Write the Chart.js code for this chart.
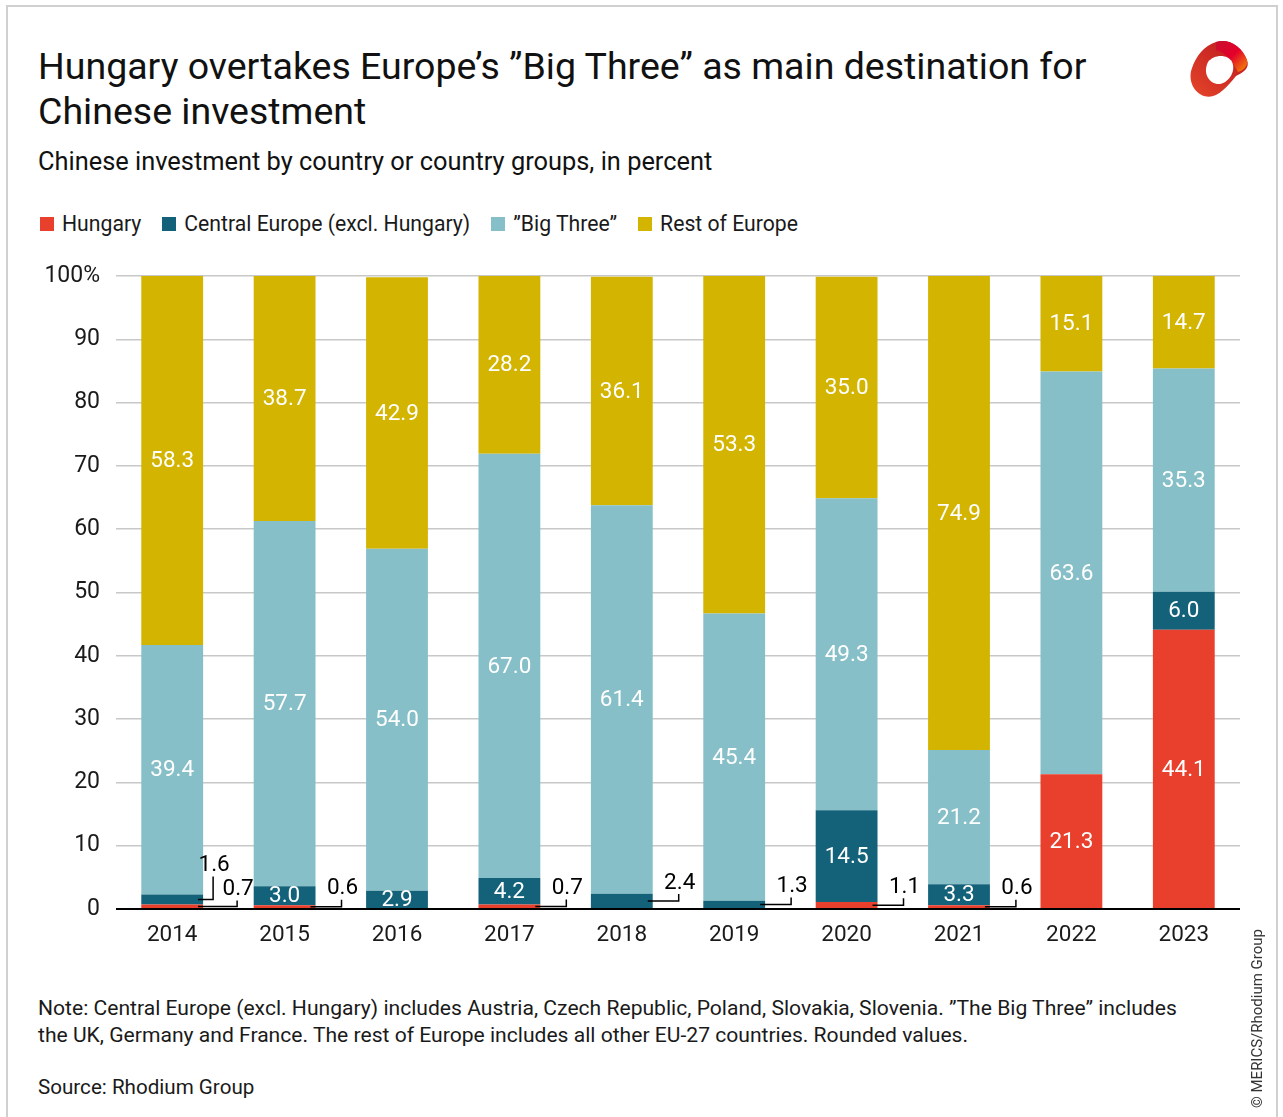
<!DOCTYPE html>
<html>
<head>
<meta charset="utf-8">
<script src="https://cdn.jsdelivr.net/npm/chart.js@4.4.1/dist/chart.umd.min.js"></script>
<style>
  body { margin: 0; background: #fff; font-family: Roboto, sans-serif; color: #1a1a1a; }
  #frame { position: absolute; left: 6px; top: 5px; width: 1268px; height: 1140px; border: 2px solid #d0d0d0; }
  .title { position: absolute; left: 38px; top: 44px; font-size: 37.5px; line-height: 45px; color: #111; }
  .subtitle { position: absolute; left: 38px; top: 146px; font-size: 25.4px; color: #111; }
  #legend { position: absolute; left: 40px; top: 211px; font-size: 21.2px; display: flex; gap: 21px; }
  #legend span.item { display: flex; align-items: center; }
  #legend i { display: inline-block; width: 14px; height: 14px; margin-right: 8px; }
  #chartBox { position: absolute; left: 0; top: 250px; width: 1283px; height: 720px; }
  .note { position: absolute; left: 38px; top: 994px; font-size: 21.1px; line-height: 27px; color: #1a1a1a; }
  .source { position: absolute; left: 38px; top: 1075px; font-size: 20.6px; color: #1a1a1a; }
  .copy { position: absolute; left: 1258px; top: 1108px; font-size: 15px; color: #333;
          transform-origin: 0 0; transform: rotate(-90deg); white-space: nowrap; margin-left: -10px; }
  #logo { position: absolute; left: 1186px; top: 38px; }
</style>
</head>
<body>
<div id="frame"></div>
<div class="title">Hungary overtakes Europe’s ”Big Three” as main destination for<br>Chinese investment</div>
<div class="subtitle">Chinese investment by country or country groups, in percent</div>
<div id="legend"></div>
<svg id="logo" width="66" height="64" viewBox="0 0 66 64">
  <defs>
    <linearGradient id="g1" x1="0" y1="0" x2="1" y2="1">
      <stop offset="0" stop-color="#c8102e"/>
      <stop offset="0.5" stop-color="#e4002b"/>
      <stop offset="1" stop-color="#f39200"/>
    </linearGradient>
    <linearGradient id="g2" x1="0" y1="1" x2="1" y2="0">
      <stop offset="0" stop-color="#e6452a"/>
      <stop offset="1" stop-color="#b8161f"/>
    </linearGradient>
  </defs>
  <path d="M30 4 C42 0 56 8 61 22 C64 30 58 34 50 38 C40 50 30 62 18 58 C6 54 2 40 6 30 C10 18 18 8 30 4 Z" fill="url(#g2)"/>
  <path d="M30 4 C42 0 56 8 61 22 C62 28 58 32 52 34 C46 22 38 14 30 12 Z" fill="url(#g1)"/>
  <path d="M22 24 C28 16 42 16 46 24 C50 32 44 44 34 46 C24 47 16 36 22 24 Z" fill="#fff"/>
</svg>
<div id="chartBox"><canvas id="chart"></canvas></div>
<div class="note">Note: Central Europe (excl. Hungary) includes Austria, Czech Republic, Poland, Slovakia, Slovenia. ”The Big Three” includes<br>the UK, Germany and France. The rest of Europe includes all other EU-27 countries. Rounded values.</div>
<div class="source">Source: Rhodium Group</div>
<div class="copy">© MERICS/Rhodium Group</div>

<script>
const FONT = 'Roboto, sans-serif';

const years = ['2014', '2015', '2016', '2017', '2018', '2019', '2020', '2021', '2022', '2023'];
const hungary = [0.7, 0.6, 0, 0.7, 0, 0, 1.1, 0.6, 21.3, 44.1];
const centralEurope = [1.6, 3.0, 2.9, 4.2, 2.4, 1.3, 14.5, 3.3, 0, 6.0];
const bigThree = [39.4, 57.7, 54.0, 67.0, 61.4, 45.4, 49.3, 21.2, 63.6, 35.3];
const restOfEurope = [58.3, 38.7, 42.9, 28.2, 36.1, 53.3, 35.0, 74.9, 15.1, 14.7];
const yTicks = [0, 10, 20, 30, 40, 50, 60, 70, 80, 90, 100];

const seriesNames = ['Hungary', 'Central Europe (excl. Hungary)', '”Big Three”', 'Rest of Europe'];
const seriesColors = ['#e8402c', '#13627a', '#86bfc7', '#d3b400'];

// small segments labelled outside the bar with a bracket line
const callouts = [
  { dataset: 0, index: 0, dx: 34, rise: 6 },
  { dataset: 1, index: 0, dx: 10, rise: 23 },
  { dataset: 0, index: 1, dx: 26, rise: 7 },
  { dataset: 0, index: 3, dx: 26, rise: 7 },
  { dataset: 1, index: 4, dx: 26, rise: 7 },
  { dataset: 1, index: 5, dx: 26, rise: 7 },
  { dataset: 0, index: 6, dx: 26, rise: 7 },
  { dataset: 0, index: 7, dx: 26, rise: 7 }
];

const legendEl = document.getElementById('legend');
seriesNames.forEach((name, i) => {
  const item = document.createElement('span');
  item.className = 'item';
  item.innerHTML = '<i style="background:' + seriesColors[i] + '"></i>' + name;
  legendEl.appendChild(item);
});

const segmentLabels = {
  id: 'segmentLabels',
  afterDatasetsDraw(chart) {
    const ctx = chart.ctx;
    const area = chart.chartArea;
    const yScale = chart.scales.y;
    ctx.save();

    const zero = yScale.getPixelForValue(0);
    ctx.strokeStyle = '#000';
    ctx.lineWidth = 2;
    ctx.beginPath();
    ctx.moveTo(area.left, zero);
    ctx.lineTo(area.right, zero);
    ctx.stroke();

    ctx.font = '22.5px ' + FONT;
    ctx.textAlign = 'center';
    ctx.textBaseline = 'middle';

    chart.data.datasets.forEach((ds, di) => {
      const meta = chart.getDatasetMeta(di);
      meta.data.forEach((bar, i) => {
        const v = ds.data[i];
        if (!v) return;
        const p = bar.getProps(['x', 'y', 'base', 'width'], true);
        const mid = (p.y + p.base) / 2;
        const c = callouts.find(c => c.dataset === di && c.index === i);
        if (c) {
          const right = p.x + p.width / 2;
          const lx = right + c.dx;
          ctx.strokeStyle = '#000';
          ctx.lineWidth = 1.5;
          ctx.beginPath();
          ctx.moveTo(right - 5, mid);
          ctx.lineTo(lx, mid);
          ctx.lineTo(lx, mid - c.rise);
          ctx.stroke();
          ctx.fillStyle = '#000';
          ctx.fillText(v.toFixed(1), lx + 1, mid - c.rise - 11);
        } else {
          ctx.fillStyle = '#fff';
          ctx.fillText(v.toFixed(1), p.x, mid + 1);
        }
      });
    });
    ctx.restore();
  }
};

const seriesData = [hungary, centralEurope, bigThree, restOfEurope];

new Chart(document.getElementById('chart'), {
  type: 'bar',
  data: {
    labels: years,
    datasets: seriesData.map((d, i) => ({
      label: seriesNames[i],
      data: d,
      backgroundColor: seriesColors[i],
      borderWidth: 0,
      barPercentage: 0.55,
      categoryPercentage: 1
    }))
  },
  options: {
    responsive: true,
    maintainAspectRatio: false,
    animation: false,
    layout: { padding: { top: 26, right: 43, bottom: 0, left: 0 } },
    plugins: {
      legend: { display: false },
      tooltip: { enabled: false }
    },
    scales: {
      x: {
        stacked: true,
        grid: { display: false, drawTicks: false },
        border: { display: false },
        ticks: { color: '#1a1a1a', font: { family: FONT, size: 22.5 }, padding: 13 },
        afterFit(scale) { scale.height = 61; scale.paddingLeft = 0; scale.paddingRight = 0; }
      },
      y: {
        stacked: true,
        min: 0,
        max: 100,
        afterBuildTicks(scale) { scale.ticks = yTicks.map(v => ({ value: v })); },
        afterFit(scale) { scale.width = 116; scale.paddingTop = 0; scale.paddingBottom = 0; },
        grid: {
          color: '#c8c8c8',
          lineWidth: 1.5,
          drawTicks: false
        },
        border: { display: false },
        ticks: {
          color: '#1a1a1a',
          font: { family: FONT, size: 23 },
          padding: 16,
          callback: v => v === 100 ? '100%' : String(v)
        }
      }
    }
  },
  plugins: [segmentLabels]
});
</script>
</body>
</html>
